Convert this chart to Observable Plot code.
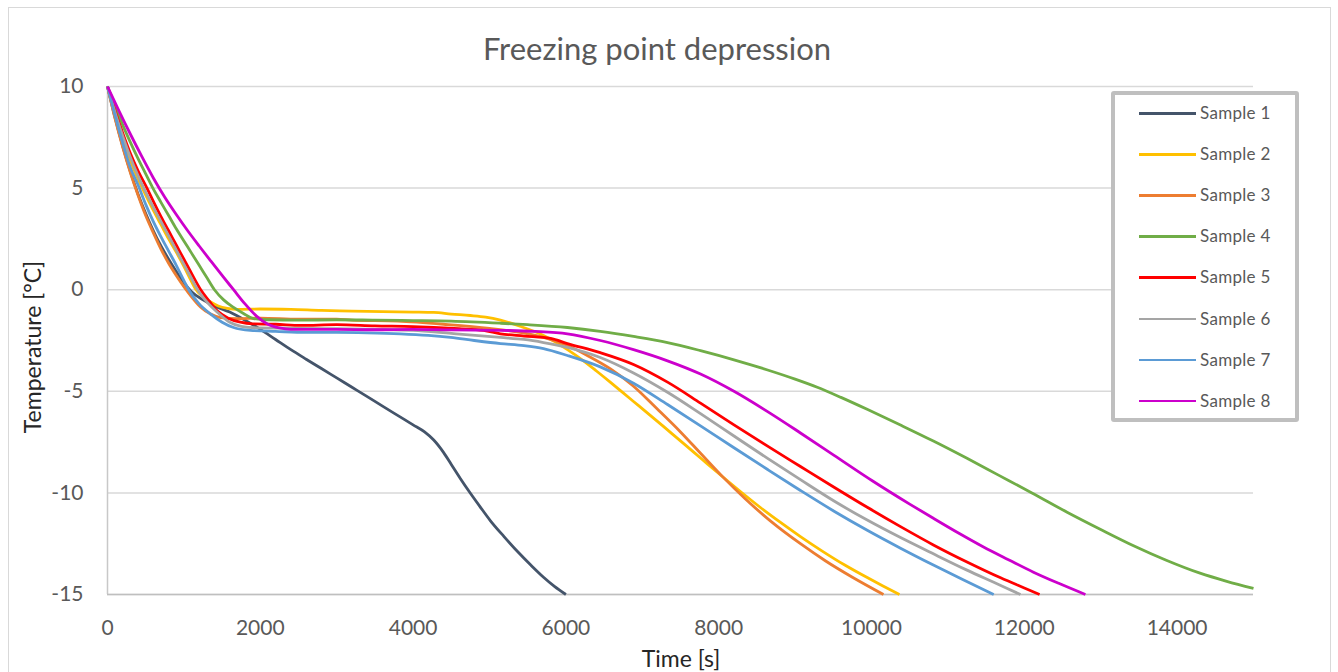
<!DOCTYPE html>
<html><head><meta charset="utf-8">
<script src="https://cdn.jsdelivr.net/npm/d3@7"></script>
<script src="https://cdn.jsdelivr.net/npm/@observablehq/plot@0.6"></script>
<style>
html,body{margin:0;padding:0;background:#fff;}
#wrap{position:relative;width:1338px;height:672px;overflow:hidden;font-family:Lato,"Open Sans",sans-serif;}
#frame{position:absolute;left:8px;top:7px;width:1323px;height:720px;border:1.5px solid #d9d9d9;box-sizing:border-box;}
#chart{position:absolute;left:0;top:0;}
#title{position:absolute;top:48px;left:657px;transform:translate(-50%,-50%);font-size:31px;color:#595959;white-space:nowrap;}
#ytitle{position:absolute;left:32px;top:347px;transform:translate(-50%,-50%) rotate(-90deg);font-size:23px;color:#262626;white-space:nowrap;}
#xtitle{position:absolute;left:681px;top:658px;transform:translate(-50%,-50%);font-size:23px;color:#262626;white-space:nowrap;}
#legend{position:absolute;left:1111px;top:91px;width:188px;height:331px;border:4px solid #bfbfbf;border-radius:3px;box-sizing:border-box;background:#fff;}
.item{position:absolute;left:0;width:180px;height:20px;}
.sw{position:absolute;left:24px;top:9px;width:57px;height:2.5px;}
.lb{position:absolute;left:85px;top:0;line-height:20px;font-size:17px;color:#595959;white-space:nowrap;letter-spacing:0.3px;}
</style>
</head><body>
<div id="wrap">
  <div id="frame"></div>
  <div id="chart"></div>
  <div id="title">Freezing point depression</div>
  <div id="ytitle">Temperature [°C]</div>
  <div id="xtitle">Time [s]</div>
  <div id="legend"></div>
</div>
<script>
const seriesNames = ["Sample 1","Sample 2","Sample 3","Sample 4","Sample 5","Sample 6","Sample 7","Sample 8"];
const seriesColors = ["#44546A","#FFC000","#ED7D31","#70AD47","#FF0000","#A5A5A5","#5B9BD5","#CC00CC"];
const xTicks = [0,2000,4000,6000,8000,10000,12000,14000];
const yTicks = [-15,-10,-5,0,5,10];

// [time s, temperature °C]
const sample1 = [[0,10],[100,8.45],[200,7.05],[300,5.8],[400,4.7],[500,3.75],[600,2.9],[700,2.15],[800,1.5],[900,0.9],[1000,0.35],[1100,-0.1],[1250,-0.5],[1400,-0.8],[1600,-1.1],[1800,-1.5],[2000,-1.95],[2200,-2.45],[2400,-2.95],[2600,-3.42],[2800,-3.88],[3000,-4.34],[3200,-4.8],[3400,-5.26],[3600,-5.73],[3835,-6.27],[4000,-6.65],[4150,-7.0],[4270,-7.4],[4400,-8.02],[4500,-8.6],[4620,-9.3],[4750,-10.02],[4880,-10.7],[5010,-11.36],[5190,-12.15],[5370,-12.9],[5540,-13.55],[5707,-14.15],[5850,-14.6],[6000,-15]];
const sample2 = [[0,10],[100,8.65],[200,7.45],[300,6.35],[400,5.45],[500,4.65],[600,3.9],[700,3.2],[800,2.5],[900,1.85],[1000,1.15],[1100,0.4],[1150,0.05],[1250,-0.35],[1350,-0.6],[1450,-0.8],[1570,-0.92],[1700,-0.97],[2000,-0.95],[2400,-0.97],[2800,-1.02],[3200,-1.05],[3600,-1.08],[4000,-1.1],[4270,-1.12],[4500,-1.2],[4750,-1.27],[4950,-1.35],[5144,-1.5],[5400,-1.8],[5707,-2.25],[6021,-2.95],[6230,-3.5],[6400,-4.0],[6584,-4.56],[6750,-5.08],[6885,-5.5],[7100,-6.17],[7330,-6.9],[7550,-7.6],[7762,-8.28],[8024,-9.12],[8300,-9.98],[8550,-10.73],[8800,-11.43],[9070,-12.15],[9350,-12.85],[9650,-13.55],[9950,-14.18],[10150,-14.58],[10366,-15]];
const sample3 = [[0,10],[100,8.4],[200,7.0],[300,5.75],[400,4.65],[500,3.65],[600,2.8],[700,2.0],[800,1.3],[900,0.7],[1000,0.15],[1100,-0.35],[1217,-0.85],[1350,-1.2],[1480,-1.37],[1700,-1.42],[2000,-1.4],[2500,-1.45],[3000,-1.45],[3200,-1.5],[3800,-1.55],[4400,-1.7],[5000,-1.9],[5400,-2.1],[5707,-2.35],[6020,-2.75],[6280,-3.24],[6584,-3.9],[6885,-4.75],[7190,-5.85],[7500,-7.0],[7762,-8.05],[8050,-9.2],[8350,-10.3],[8700,-11.45],[9070,-12.5],[9400,-13.35],[9750,-14.15],[10157,-15]];
const sample4 = [[0,10],[100,9.05],[200,8.1],[300,7.25],[400,6.45],[500,5.7],[587,5.05],[700,4.3],[800,3.65],[900,3.0],[1000,2.4],[1100,1.8],[1200,1.2],[1300,0.6],[1400,0.0],[1520,-0.5],[1650,-0.87],[1780,-1.17],[1910,-1.42],[2100,-1.48],[2500,-1.5],[3000,-1.48],[3500,-1.5],[4000,-1.52],[4500,-1.55],[5144,-1.65],[5500,-1.72],[6020,-1.86],[6450,-2.05],[6885,-2.3],[7330,-2.6],[7762,-3.0],[8200,-3.45],[8640,-3.95],[9000,-4.4],[9290,-4.8],[9600,-5.3],[9950,-5.9],[10400,-6.7],[10810,-7.45],[11250,-8.3],[11650,-9.1],[12100,-10.0],[12560,-10.95],[13000,-11.8],[13430,-12.6],[13850,-13.3],[14300,-13.95],[14650,-14.35],[15000,-14.7]];
const sample5 = [[0,10],[100,8.8],[200,7.7],[300,6.7],[400,5.85],[523,4.95],[600,4.35],[700,3.6],[800,2.9],[900,2.2],[1000,1.5],[1100,0.8],[1220,0.0],[1330,-0.55],[1440,-1.05],[1580,-1.4],[1740,-1.6],[1900,-1.68],[2200,-1.7],[2526,-1.76],[3000,-1.72],[3500,-1.78],[4000,-1.82],[4270,-1.86],[4600,-1.92],[4920,-2.0],[5144,-2.17],[5450,-2.28],[5800,-2.4],[6020,-2.65],[6450,-3.1],[6885,-3.68],[7330,-4.55],[7762,-5.58],[8200,-6.65],[8640,-7.7],[9070,-8.7],[9510,-9.72],[9950,-10.72],[10380,-11.66],[10810,-12.56],[11250,-13.4],[11690,-14.18],[12000,-14.68],[12200,-15]];
const sample6 = [[0,10],[100,8.7],[200,7.55],[300,6.5],[400,5.6],[500,4.8],[600,4.05],[700,3.35],[800,2.65],[900,1.95],[1000,1.25],[1100,0.55],[1180,0.0],[1300,-0.6],[1450,-1.15],[1600,-1.6],[1750,-1.8],[2000,-1.88],[2500,-1.9],[3000,-1.92],[3500,-1.95],[4000,-2.0],[4500,-2.15],[5144,-2.35],[5450,-2.45],[5707,-2.6],[6020,-2.84],[6450,-3.34],[6885,-4.1],[7330,-5.05],[7762,-6.1],[8200,-7.2],[8640,-8.3],[9070,-9.35],[9510,-10.4],[9950,-11.35],[10380,-12.2],[10810,-13.0],[11250,-13.8],[11600,-14.4],[11950,-15]];
const sample7 = [[0,10],[100,8.55],[200,7.2],[300,6.0],[400,5.15],[500,4.2],[600,3.35],[700,2.6],[800,1.9],[900,1.2],[1000,0.45],[1063,0.0],[1200,-0.7],[1350,-1.2],[1500,-1.6],[1650,-1.86],[1870,-2.0],[2200,-2.05],[2600,-2.1],[3000,-2.1],[3400,-2.12],[3835,-2.17],[4200,-2.25],[4490,-2.35],[4800,-2.5],[5144,-2.65],[5450,-2.75],[5707,-2.9],[6020,-3.24],[6450,-3.8],[6885,-4.6],[7330,-5.65],[7762,-6.7],[8200,-7.78],[8640,-8.85],[9070,-9.88],[9510,-10.9],[9950,-11.85],[10380,-12.72],[10810,-13.55],[11200,-14.28],[11600,-15]];
const sample8 = [[0,10],[150,8.8],[300,7.65],[450,6.55],[600,5.5],[750,4.55],[900,3.7],[1050,2.9],[1200,2.15],[1350,1.42],[1500,0.7],[1650,0.0],[1800,-0.7],[1950,-1.3],[2100,-1.7],[2250,-1.88],[2400,-1.95],[3000,-1.95],[3500,-1.97],[4000,-1.95],[4500,-1.98],[5144,-2.0],[5600,-2.05],[6020,-2.17],[6450,-2.5],[6885,-2.95],[7330,-3.5],[7762,-4.15],[8200,-5.0],[8640,-6.0],[9070,-7.05],[9510,-8.15],[10010,-9.4],[10500,-10.55],[10810,-11.25],[11150,-12.0],[11460,-12.65],[11800,-13.3],[12120,-13.9],[12450,-14.45],[12800,-15]];

const allSeries = [sample1,sample2,sample3,sample4,sample5,sample6,sample7,sample8];

const lineMarks = allSeries.map((s, i) =>
  Plot.line(s.map(([t, T]) => ({t, T})), {
    x: "t", y: "T", stroke: seriesColors[i], strokeWidth: 2.8,
    curve: "monotone-x", strokeLinejoin: "round", strokeLinecap: "butt"
  })
);

const fmt = d => String(d);

const chart = Plot.plot({
  width: 1338, height: 672,
  marginLeft: 107, marginRight: 85, marginTop: 86, marginBottom: 78,
  style: {fontFamily: "Lato, 'Open Sans', sans-serif", fontSize: "21px", color: "#595959", background: "transparent", overflow: "visible"},
  x: {domain: [0, 15000], label: null},
  y: {domain: [-15, 10], label: null},
  marks: [
    Plot.gridY(yTicks, {stroke: "#d9d9d9", strokeOpacity: 1, strokeWidth: 1.5}),
    Plot.ruleX([0], {stroke: "#c8c8c8", strokeWidth: 1.5}),
    Plot.ruleY([-15], {stroke: "#bfbfbf", strokeWidth: 1.5}),
    Plot.axisY(yTicks, {tickSize: 0, tickPadding: 24, label: null, tickFormat: fmt}),
    Plot.axisX(xTicks, {tickSize: 0, tickPadding: 26, label: null, tickFormat: fmt}),
    ...lineMarks
  ]
});
document.getElementById("chart").appendChild(chart);

const legend = document.getElementById("legend");
seriesNames.forEach((name, i) => {
  const item = document.createElement("div");
  item.className = "item";
  item.style.top = (8 + 41.1 * i) + "px";
  const sw = document.createElement("div");
  sw.className = "sw";
  sw.style.background = seriesColors[i];
  const lb = document.createElement("div");
  lb.className = "lb";
  lb.textContent = name;
  item.appendChild(sw);
  item.appendChild(lb);
  legend.appendChild(item);
});
</script>
</body></html>
